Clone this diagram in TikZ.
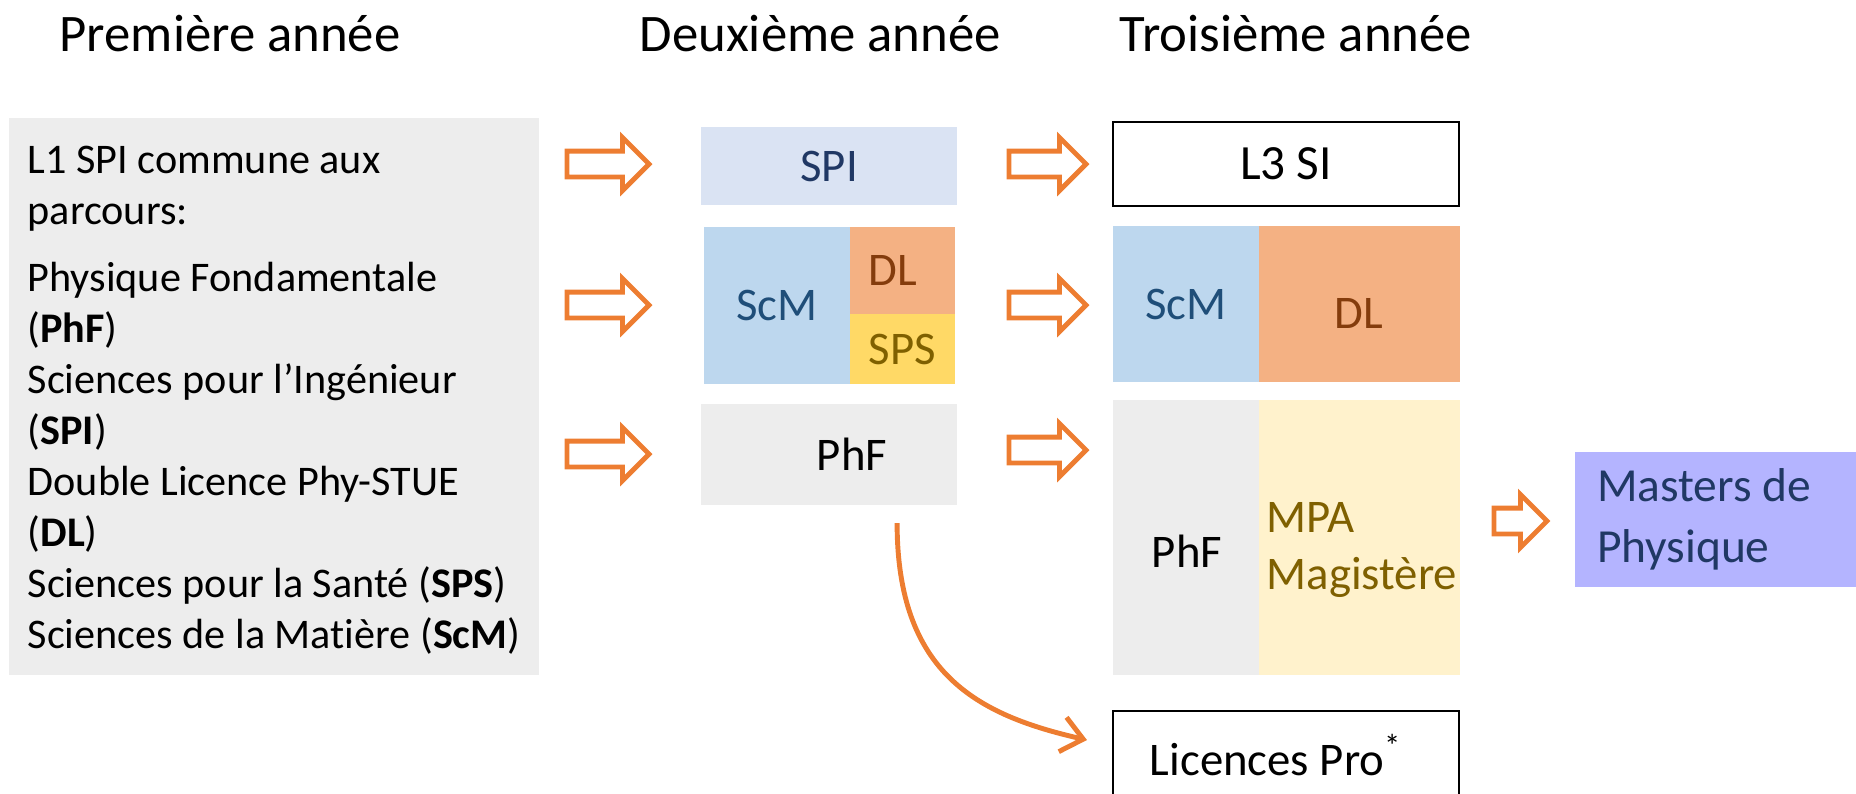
\documentclass[tikz,border=0pt]{standalone}
\usepackage{fontspec}
\setmainfont{Carlito}[Ligatures=NoCommon]
\usepackage{xcolor}
\usepackage{tikz}
\usetikzlibrary{shapes.arrows,arrows.meta}

\definecolor{orangefl}{HTML}{ED7D31}
\definecolor{grisL}{HTML}{EDEDED}
\definecolor{bleuSPI}{HTML}{DAE3F3}
\definecolor{texteSPI}{HTML}{203864}
\definecolor{bleuScM}{HTML}{BDD7EE}
\definecolor{texteScM}{HTML}{1F4E79}
\definecolor{orangeDL}{HTML}{F4B183}
\definecolor{texteDL}{HTML}{843C0C}
\definecolor{jauneSPS}{HTML}{FFD966}
\definecolor{texteSPS}{HTML}{7F6000}
\definecolor{cremeMPA}{HTML}{FFF2CC}
\definecolor{violetM}{HTML}{B4B4FF}

\begin{document}
\begin{tikzpicture}[x=0.01cm,y=-0.01cm,
   titre/.style={anchor=base west,inner sep=0pt,font=\fontsize{15}{18}\selectfont},
   bloc/.style={rectangle,inner sep=0pt,outer sep=0pt,anchor=north west,font=\fontsize{13.3}{16.2}\selectfont},
   cadre/.style={bloc,draw=black,line width=0.5pt},
   etiquette/.style={anchor=base,inner sep=0pt,font=\fontsize{13.3}{16.2}\selectfont},
   fleche/.style={single arrow,anchor=tail,draw=orangefl,line width=1.4pt,inner sep=0pt,
     text height=0.21cm,text depth=0pt,single arrow head extend=0.135cm,
     single arrow tip angle=90,minimum height=#1},
   fleche/.default=0.82cm,
   courbe/.style={orangefl,line width=1.4pt,-{Straight Barb[length=6pt,width=10pt]}}]

  \useasboundingbox (0,0) rectangle (1856,793);
  \clip (0,0) rectangle (1856,793);

  \node[titre](an1) at (59,51) {Première année};
  \node[titre](an2) at (639,51) {Deuxième année};
  \node[titre](an3) at (1119,51) {Troisième année};

  \node[bloc,fill=grisL,minimum width=5.30cm,minimum height=5.57cm](l1) at (9,118) {};
  \node[anchor=base west,inner sep=0pt,text width=5.3cm,align=flush left,
        font=\fontsize{12}{14.5}\selectfont](l1txt) at (27,173)
       {L1 SPI commune aux\\ parcours:\\[4.8pt]
        Physique Fondamentale\\ (\textbf{PhF})\\
        Sciences pour l’Ingénieur\\ (\textbf{SPI})\\
        Double Licence Phy-STUE\\ (\textbf{DL})\\
        Sciences pour la Santé (\textbf{SPS})\\
        Sciences de la Matière (\textbf{ScM})};

  \node[bloc,fill=bleuSPI,text=texteSPI,minimum width=2.56cm,minimum height=0.78cm](spi2) at (701,127) {SPI};
  \node[bloc,fill=bleuScM,text=texteScM,minimum width=1.46cm,minimum height=1.57cm](scm2) at (704,227) {ScM};
  \node[bloc,fill=orangeDL,text=texteDL,minimum width=1.05cm,minimum height=0.87cm](dl2) at (850,227) {DL\hspace*{0.2cm}};
  \node[bloc,fill=jauneSPS,text=texteSPS,minimum width=1.05cm,minimum height=0.70cm](sps2) at (850,314) {SPS};
  \node[bloc,fill=grisL,minimum width=2.56cm,minimum height=1.01cm](phf2) at (701,404) {\hspace*{0.46cm}PhF};

  \node[cadre,font=\fontsize{14}{17}\selectfont,minimum width=3.46cm,minimum height=0.84cm](l3si) at (1113,122) {L3 SI};
  \node[bloc,fill=bleuScM,text=texteScM,minimum width=1.46cm,minimum height=1.56cm](scm3) at (1113,226) {ScM};
  \node[bloc,fill=orangeDL,minimum width=2.01cm,minimum height=1.56cm](dl3) at (1259,226) {};
  \node[etiquette,text=texteDL](dl3txt) at (1359,328) {DL};
  \node[bloc,fill=grisL,minimum width=1.46cm,minimum height=2.75cm](phf3) at (1113,400) {};
  \node[etiquette](phf3txt) at (1187,567) {PhF};
  \node[bloc,fill=cremeMPA,minimum width=2.01cm,minimum height=2.75cm](mpa3) at (1259,400) {};
  \node[etiquette,anchor=base west,text=texteSPS,align=left](mpa3txt) at (1266,589) {MPA\\ Magistère};

  \node[bloc,fill=violetM,text=texteSPI,minimum width=2.90cm,minimum height=1.35cm,
        text width=2.60cm,align=flush left,inner xsep=0.22cm,font=\fontsize{13.5}{17.5}\selectfont](master) at (1575,452) {Masters de\\ Physique};
  \node[cadre,minimum width=3.46cm,minimum height=0.88cm](lpro) at (1113,711) {Licences Pro\textsuperscript{*}\hspace*{0.2cm}};

  \foreach \y [count=\i] in {164,305,454} \node[fleche](fa\i) at (564.5,\y) {};
  \foreach \y [count=\i] in {164,305,450} \node[fleche=0.77cm](fb\i) at (1006.5,\y) {};
  \node[fleche=0.53cm](fc) at (1491.5,521) {};

  \draw[courbe] ([xshift=0.68cm,yshift=-0.18cm]phf2.south) .. controls +(0,150) and +(-110,-25) .. ([xshift=-0.26cm,yshift=-0.29cm]lpro.north west);
\end{tikzpicture}
\end{document}
